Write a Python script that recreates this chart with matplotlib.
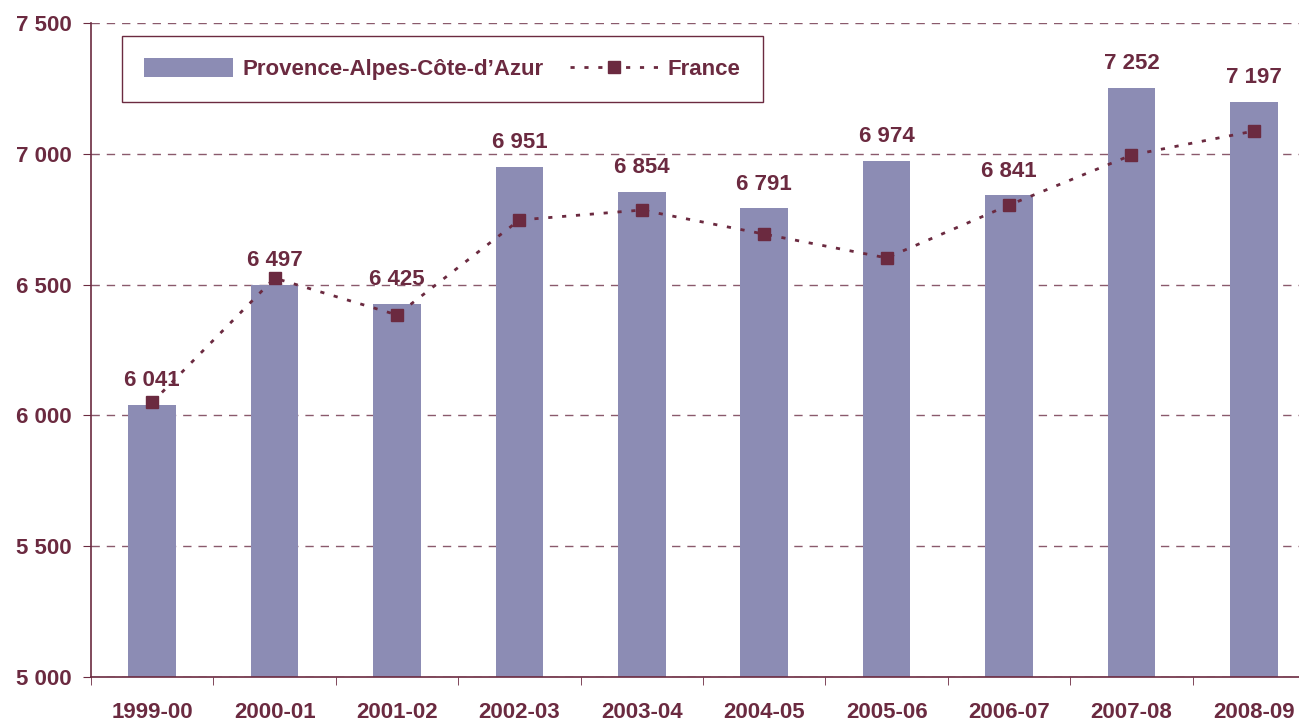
import matplotlib.pyplot as plt
from matplotlib.ticker import FuncFormatter, FixedLocator

plt.rcParams['font.family'] = ['Liberation Sans', 'DejaVu Sans']

seasons = ['1999-00', '2000-01', '2001-02', '2002-03', '2003-04',
           '2004-05', '2005-06', '2006-07', '2007-08', '2008-09']
paca = [6041, 6497, 6425, 6951, 6854, 6791, 6974, 6841, 7252, 7197]
france = [6050, 6525, 6384, 6747, 6785, 6693, 6602, 6804, 6995, 7087]

bar_color = '#8C8CB4'
dark = '#6B2A40'

fig = plt.figure(figsize=(12.99, 7.21), dpi=100)
ax = fig.add_axes([91 / 1299, 44 / 721, 1208 / 1299, 654 / 721])

x = list(range(len(seasons)))
bars = ax.bar(x, paca, width=0.39, color=bar_color, zorder=2)
line, = ax.plot(x, france, linestyle=(0, (1.5, 3.5)), linewidth=2, color=dark,
                marker='s', markersize=8, zorder=3)

for xi, v in zip(x, paca):
    ax.annotate(f'{v:,}'.replace(',', ' '), (xi, v), xytext=(0, 10), textcoords='offset points',
                ha='center', va='bottom', fontsize=16, fontweight='bold', color=dark)

ax.set_ylim(5000, 7500)
ax.set_xlim(-0.5, -0.5 + 1208 / 122.4)
ax.set_yticks([5000, 5500, 6000, 6500, 7000, 7500])
ax.yaxis.set_major_formatter(FuncFormatter(lambda v, p: f'{int(v):,}'.replace(',', ' ')))
ax.set_xticks(x)
ax.set_xticklabels(seasons)
ax.xaxis.set_minor_locator(FixedLocator([i - 0.5 for i in range(len(seasons) + 1)]))
ax.tick_params(axis='x', which='major', length=0, pad=18)
ax.tick_params(axis='x', which='minor', length=6, color=dark, direction='out')
ax.tick_params(axis='y', length=6, color=dark, direction='out', pad=8)
for lab in ax.get_xticklabels() + ax.get_yticklabels():
    lab.set_fontsize(16)
    lab.set_fontweight('bold')
    lab.set_color(dark)

ax.grid(axis='y', linestyle=(0, (6, 5)), color='#8A5A6C', linewidth=1, zorder=0)
ax.set_axisbelow(True)
for s in ['top', 'right']:
    ax.spines[s].set_visible(False)
for s in ['left', 'bottom']:
    ax.spines[s].set_color(dark)
    ax.spines[s].set_linewidth(1.2)

leg = ax.legend([bars, line], ['Provence-Alpes-Côte-d\u2019Azur', 'France'],
                loc='upper left', bbox_to_anchor=(122 / 1299, 1 - 36 / 721), bbox_transform=fig.transFigure,
                borderaxespad=0, ncol=2, fancybox=False, framealpha=1, edgecolor=dark, borderpad=1.0,
                handlelength=4.0, handleheight=0.9, columnspacing=1.2, handletextpad=0.4,
                prop={'size': 16, 'weight': 'bold'})
leg.get_frame().set_linewidth(1)
for t in leg.get_texts():
    t.set_color(dark)

fig.savefig('out.png', dpi=100)
